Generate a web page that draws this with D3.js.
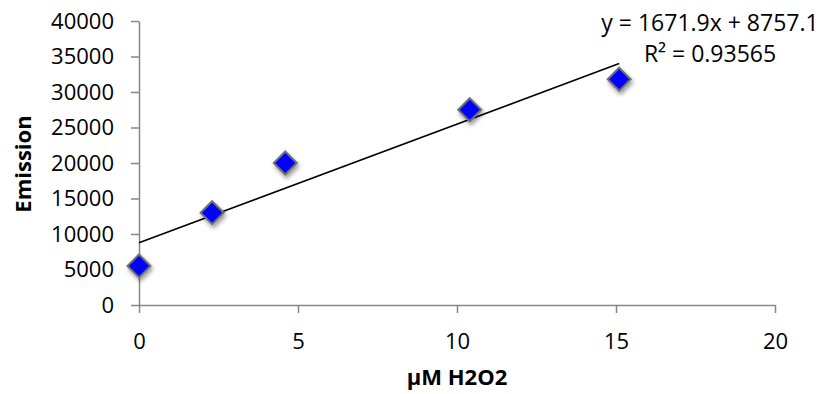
<!DOCTYPE html>
<html>
<head>
<meta charset="utf-8">
<script src="https://cdn.jsdelivr.net/npm/d3@7"></script>
<style>
  body { margin: 0; background: #fff; }
  svg { display: block; font-family: "Open Sans", sans-serif; }
</style>
</head>
<body>
<div id="chart"></div>
<script>
// data
const concentrations = [0, 2.3, 4.6, 10.4, 15.1];
const emissions = [5500, 13000, 20000, 27500, 31800];
const xTicks = [0, 5, 10, 15, 20];
const yTicks = [0, 5000, 10000, 15000, 20000, 25000, 30000, 35000, 40000];
const slope = 1671.9;
const intercept = 8757.1;
const eqLabel = "y = 1671.9x + 8757.1";
const r2Label = "R² = 0.93565";

const width = 834;
const height = 394;
const marginLeft = 139;
const marginRight = 59;
const marginTop = 21;
const marginBottom = 89;

const axisColor = "#868686";

const svg = d3.select("#chart")
    .append("svg")
    .attr("width", width)
    .attr("height", height);

// soft shadow under the markers
const defs = svg.append("defs");
const filter = defs.append("filter")
    .attr("id", "shadow")
    .attr("x", "-50%").attr("y", "-50%")
    .attr("width", "200%").attr("height", "200%");
filter.append("feDropShadow")
    .attr("dx", 1.5)
    .attr("dy", 3)
    .attr("stdDeviation", 2.2)
    .attr("flood-color", "#000")
    .attr("flood-opacity", 0.4);

const x = d3.scaleLinear()
    .domain([0, 20])
    .range([marginLeft, width - marginRight]);

const y = d3.scaleLinear()
    .domain([0, 40000])
    .range([height - marginBottom, marginTop]);

// x axis
const xAxis = svg.append("g")
    .attr("transform", `translate(0,${height - marginBottom})`)
    .call(d3.axisBottom(x).tickValues(xTicks).tickSize(8).tickSizeOuter(0).tickPadding(20));

// y axis
const yAxis = svg.append("g")
    .attr("transform", `translate(${marginLeft},0)`)
    .call(d3.axisLeft(y).tickValues(yTicks).tickSize(8).tickSizeOuter(0).tickPadding(17).tickFormat(d3.format("d")));

[xAxis, yAxis].forEach((g) => {
    g.select(".domain").attr("stroke", axisColor).attr("stroke-width", 1.5);
    g.selectAll(".tick line").attr("stroke", axisColor).attr("stroke-width", 1.5);
    g.selectAll(".tick text")
        .attr("fill", "#000")
        .style("font-size", "22px")
        .style("font-family", "'Open Sans', sans-serif");
});

// trendline over the data range
const xMax = d3.max(concentrations);
svg.append("line")
    .attr("x1", x(0))
    .attr("y1", y(intercept))
    .attr("x2", x(xMax))
    .attr("y2", y(slope * xMax + intercept))
    .attr("stroke", "#000")
    .attr("stroke-width", 1.6);

// diamond markers
const points = concentrations.map((c, i) => ({ c: c, e: emissions[i] }));
svg.append("g")
    .selectAll("path")
    .data(points)
    .enter()
    .append("path")
    .attr("transform", (d) => `translate(${x(d.c)},${y(d.e)})`)
    .attr("d", "M0,-11.5L11.5,0L0,11.5L-11.5,0Z")
    .attr("fill", "#0000ff")
    .attr("stroke", "#707070")
    .attr("stroke-width", 2)
    .attr("filter", "url(#shadow)");

// trendline equation
const eq = svg.append("text")
    .attr("x", 710)
    .attr("text-anchor", "middle")
    .style("font-size", "23px");
eq.append("tspan").attr("x", 710).attr("y", 31).text(eqLabel);
eq.append("tspan").attr("x", 710).attr("y", 62).text(r2Label);

// axis titles
svg.append("text")
    .attr("x", x(10))
    .attr("y", 385)
    .attr("text-anchor", "middle")
    .style("font-size", "22px")
    .style("font-weight", "bold")
    .text("µM H2O2");

svg.append("text")
    .attr("transform", `translate(31,164) rotate(-90)`)
    .attr("text-anchor", "middle")
    .style("font-size", "22px")
    .style("font-weight", "bold")
    .text("Emission");
</script>
</body>
</html>
